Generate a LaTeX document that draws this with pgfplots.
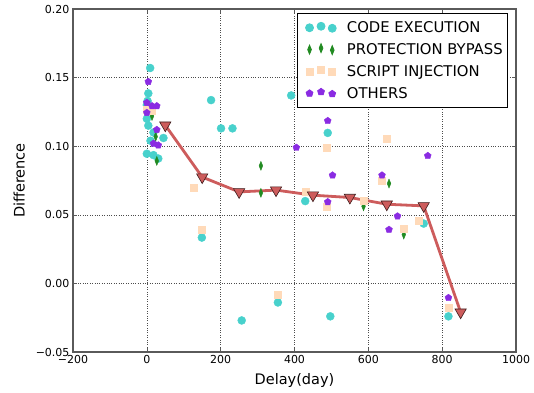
\documentclass[border=0pt]{standalone}
\usepackage{pgfplots}
\pgfplotsset{compat=1.18}
\usepackage{fontspec}
\setmainfont{DejaVu Sans}
\usetikzlibrary{plotmarks}
\definecolor{cyanc}{RGB}{72,209,204}
\definecolor{greenc}{RGB}{34,139,34}
\definecolor{peachc}{RGB}{255,218,185}
\definecolor{purplec}{RGB}{138,43,226}
\definecolor{redc}{RGB}{205,92,92}
\definecolor{framec}{RGB}{90,90,90}
\begin{document}
\begin{tikzpicture}
\path[use as bounding box] (-73pt,-40pt) rectangle (461pt,352pt);
\begin{axis}[
  at={(0,0)}, anchor=south west,
  scale only axis, width=443pt, height=343pt,
  xmin=-200, xmax=1000, ymin=-0.05, ymax=0.20,
  xtick={-200,0,200,400,600,800,1000},
  xticklabels={−200,0,200,400,600,800,1000},
  ytick={-0.05,0,0.05,0.10,0.15,0.20},
  yticklabels={−0.05,0.00,0.05,0.10,0.15,0.20},
  tick align=inside, xtick pos=both, ytick pos=both,
  major tick length=4pt,
  tick style={framec, line width=0.6pt},
  axis line style={framec, line width=1.2pt},
  grid=major, grid style={dotted, black!70, line width=0.6pt},
  tick label style={font=\fontsize{11}{13}\selectfont},
  label style={font=\fontsize{14.5}{16}\selectfont},
  xlabel={Delay(day)}, ylabel={Difference},
  xlabel style={yshift=-3pt}, ylabel style={yshift=4pt},
  legend style={at={(rel axis cs:0.982,0.988)}, anchor=north east,
    draw=black, line width=0.8pt, font=\fontsize{14.8}{17}\selectfont,
    nodes={font=\fontsize{14.8}{17}\selectfont},
    row sep=5.4pt, inner xsep=3pt, inner ysep=6pt, cells={anchor=west}},
  legend image code/.code={%
    \draw[#1] plot[only marks] coordinates {(0pt,0pt) (11.5pt,1.5pt) (22.7pt,-0.5pt)};
    \path (-9pt,0pt) (35pt,0pt);},
  legend cell align=left,
]
\addplot[only marks, mark=*, mark size=4pt, color=cyanc, mark options={draw=cyanc, fill=cyanc}] coordinates {
(9,0.157) (4,0.1385) (2,0.133) (0,0.130) (4,0.128) (0,0.120) (4,0.115) (18,0.110) (45,0.106) (10,0.104)
(0,0.0945) (18,0.0935) (31,0.091) (174,0.1336) (201,0.113) (232,0.113) (391,0.137) (490,0.1097)
(429,0.060) (149,0.0334) (355,-0.0139) (257,-0.027) (497,-0.024) (750,0.0436) (817,-0.024)
};
\addlegendentry{CODE EXECUTION}
\addplot[only marks, mark=diamond*, mark size=4.5pt, color=greenc, mark options={draw=greenc, fill=greenc, xscale=0.55}] coordinates {
(14,0.122) (24,0.107) (27,0.0893) (309,0.0857) (309,0.066) (587,0.0562) (656,0.0728) (696,0.0356)
};
\addlegendentry{PROTECTION BYPASS}
\addplot[only marks, mark=square*, mark size=3.5pt, color=peachc, mark options={draw=peachc, fill=peachc}] coordinates {
(14,0.1256) (0,0.1264) (126,0.070) (149,0.0394) (355,-0.008) (429,0.0667) (486,0.099) (488,0.0562)
(587,0.0606) (637,0.0752) (650,0.1056) (696,0.040) (736,0.046) (817,-0.0178)
};
\addlegendentry{SCRIPT INJECTION}
\addplot[only marks, mark=pentagon*, mark size=3.6pt, color=purplec, mark options={draw=purplec, fill=purplec}] coordinates {
(4,0.147) (0,0.1317) (14,0.1293) (27,0.1293) (0,0.1244) (27,0.112) (18,0.102) (31,0.1007)
(405,0.099) (490,0.1185) (503,0.0788) (490,0.0594) (637,0.0788) (761,0.093) (679,0.049) (656,0.0392) (817,-0.0105)
};
\addlegendentry{OTHERS}
\addplot[color=redc, line width=2.8pt, mark=triangle*, mark size=6.5pt,
  mark options={rotate=180, fill=redc, draw=black!70!redc, line width=0.6pt}, forget plot] coordinates {
(50,0.1153) (150,0.0775) (250,0.0667) (350,0.068) (450,0.0643) (550,0.0626) (650,0.0577) (750,0.0565) (850,-0.021)
};
\end{axis}
\end{tikzpicture}
\end{document}
